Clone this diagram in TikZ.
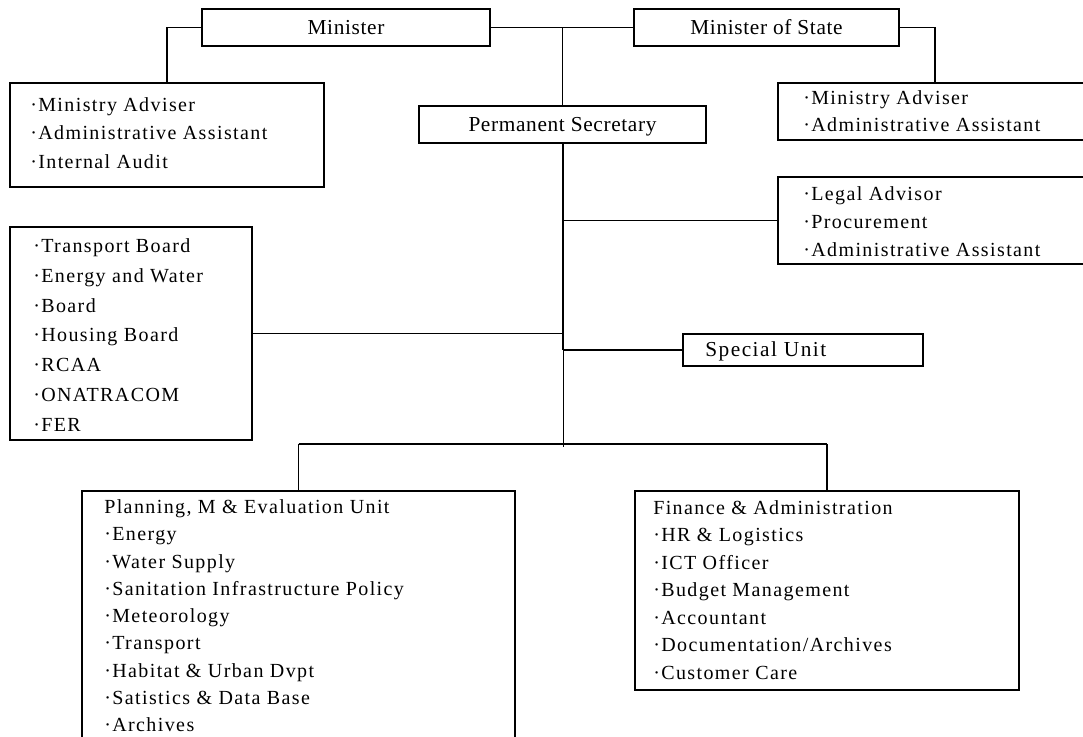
\documentclass[tikz,border=0pt]{standalone}
\usepackage{fontspec}
\setmainfont{Liberation Serif}
\newfontfamily\listfont{Liberation Serif}[LetterSpace=7]
\newfontfamily\headfont{Liberation Serif}[LetterSpace=3]
\usetikzlibrary{fit}

\tikzset{
  unitbox/.style={draw=black, line width=2pt, inner sep=0pt, fill=white},
  link/.style={draw=black, line width=1pt},
  mainlink/.style={draw=black, line width=1.5pt},
  headtext/.style={font=\headfont\fontsize{16}{19}\selectfont, inner sep=0pt,
                   text height=10.6pt, text depth=0pt, anchor=center},
  itemtext/.style={font=\listfont\fontsize{15}{20}\selectfont,
                   inner sep=0pt, anchor=base west},
  bigitem/.style={font=\listfont\fontsize{16}{20}\selectfont,
                  inner sep=0pt, anchor=base west},
}

% rows of a list: name prefix, x, first baseline, row skip, entries
\newcommand\itemrows[5]{%
  \foreach \t [count=\i from 0] in {#5}{%
    \node[itemtext] (#1-\i) at ({#2}, {#3+\i*#4}) {\t};
  }}

\begin{document}
\begin{tikzpicture}[x=0.75pt, y=-0.75pt]
  \useasboundingbox (0,0) rectangle (1083,737);
  \clip (0,0) rectangle (1083,737);

  % top level
  \node[unitbox, fit={(202,9) (490,46)}]    (min) {};
  \node[unitbox, fit={(634,9) (899,46)}]    (mos) {};
  \node[unitbox, fit={(419,106) (706,143)}] (ps) {};
  \node[headtext] (mint) at (min.center) {Minister};
  \node[headtext] (most) at (mos.center) {Minister of State};
  \node[headtext] (pst)  at (ps.center)  {Permanent Secretary};

  % advisers
  \node[unitbox, fit={(10,83) (324,187)}]    (advL) {};
  \node[unitbox, fit={(778,83) (1092,140)}]  (advR) {};
  \node[unitbox, fit={(778,177) (1092,264)}] (legal) {};
  \node[unitbox, fit={(10,227) (252,440)}]   (trans) {};
  \node[unitbox, fit={(683,334) (923,366)}]  (su) {};

  % units
  \node[unitbox, fit={(82,491) (515,790)}]   (plan) {};
  \node[unitbox, fit={(635,491) (1019,690)}] (fin) {};

  % texts of the boxes
  \itemrows{advLt}{30}{111.5}{28.5}{·Ministry Adviser, ·Administrative Assistant, ·Internal Audit}
  \itemrows{advRt}{803}{105}{27}{·Ministry Adviser, ·Administrative Assistant}
  \itemrows{legalt}{803}{201}{28}{·Legal Advisor, ·Procurement, ·Administrative Assistant}
  \itemrows{transt}{33}{252.5}{29.8}{·Transport Board, ·Energy and Water, ·Board,
    ·Housing Board, ·RCAA, ·ONATRACOM, ·FER}
  \node[bigitem] (sut) at (705,357) {Special Unit};
  \itemrows{plant}{104}{513.5}{27.3}{{Planning, M \& Evaluation Unit}, ·Energy, ·Water Supply,
    ·Sanitation Infrastructure Policy, ·Meteorology, ·Transport,
    ·Habitat \& Urban Dvpt, ·Satistics \& Data Base, ·Archives}
  \itemrows{fint}{653}{514.5}{27.5}{Finance \& Administration, ·HR \& Logistics, ·ICT Officer,
    ·Budget Management, ·Accountant, ·Documentation/Archives, ·Customer Care}

  % connectors
  \coordinate (busy) at (0,447);
  \coordinate (bh) at (0,444);
  \draw[link] (min.east) -- (mos.west);
  \draw[link] (ps.north |- min.east) -- (ps.north);
  \draw[link] (min.west) -| (advL.north);
  \draw[link] (mos.east) -| (advR.north);
  \draw[mainlink] (ps.south) -- (su.west -| ps.south);
  \draw[link] ([xshift=0.5pt]su.west -| ps.south) -- ([xshift=0.5pt]ps.south |- busy);
  \draw[link] (legal.west -| ps.south) -- (legal.west);
  \draw[link] (trans.east) -- (trans.east -| ps.south);
  \draw[link] (su.west -| ps.south) -- (su.west);
  \draw[link] (plan.north |- bh) -- (fin.north |- bh);
  \draw[link] (plan.north |- bh) -- (plan.north);
  \draw[link] (fin.north |- bh) -- (fin.north);
\end{tikzpicture}
\end{document}
